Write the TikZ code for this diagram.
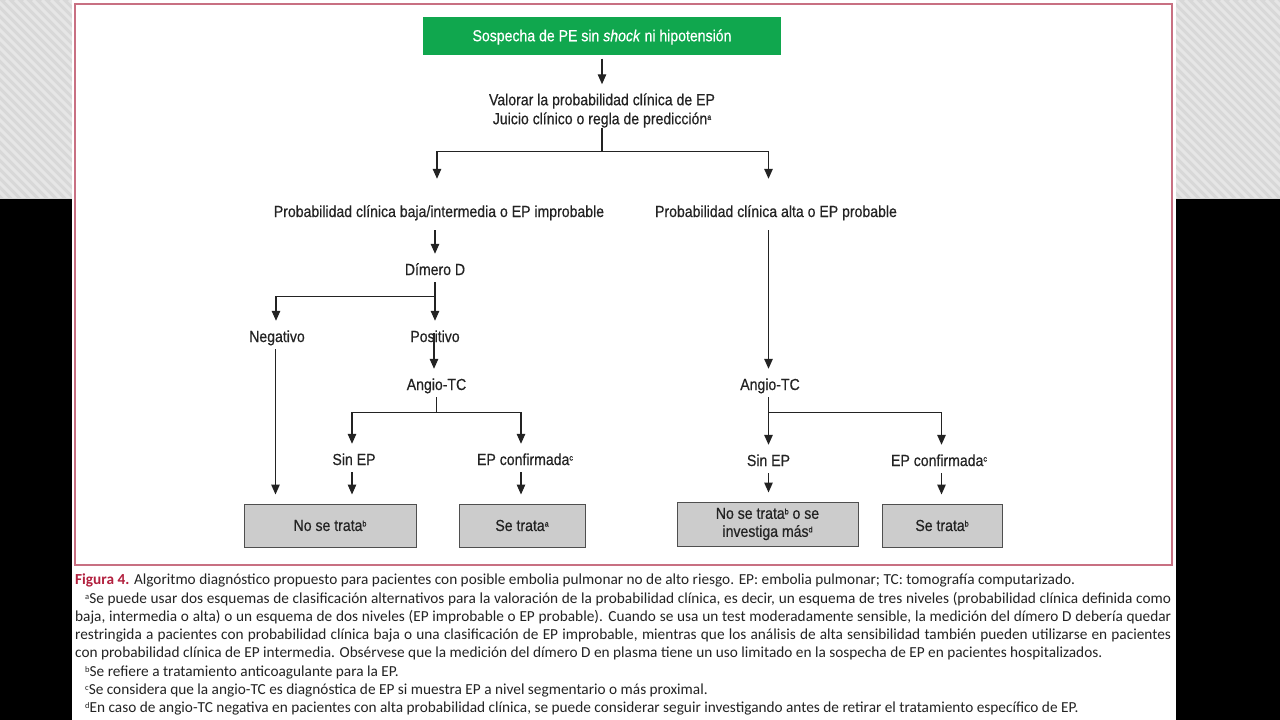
\documentclass[tikz,border=0pt]{standalone}
\usepackage{fontspec}
\setmainfont{Carlito}
\newfontfamily\cond[FakeStretch=0.88,FakeBold=0.5]{Liberation Sans}
\usetikzlibrary{arrows.meta}
\newcommand\supf[1]{\raisebox{4.5pt}{\fontsize{8}{8}\selectfont #1}}
\newcommand\supc[1]{\raisebox{3.5pt}{\fontsize{8.5}{8.5}\selectfont #1}}
\definecolor{grn}{RGB}{16,167,78}
\definecolor{framec}{RGB}{200,112,130}
\definecolor{figred}{RGB}{178,32,62}
\definecolor{ink}{RGB}{35,35,35}
\definecolor{boxfill}{RGB}{204,204,204}
\definecolor{patbg}{RGB}{216,216,216}
\definecolor{patln}{RGB}{230,230,230}
\tikzset{
 lbl/.style={font=\cond\fontsize{16}{19}\selectfont, text=ink, inner xsep=1pt, inner ysep=0pt, text height=21pt, text depth=7pt},
 ln/.style={line width=1.3pt, draw=ink},
 arr/.style={ln, -{Triangle[length=10pt,width=8.5pt]}},
 outbox/.style={draw=ink!80, line width=1pt, fill=boxfill, font=\cond\fontsize{16}{18}\selectfont, text=ink, align=center, minimum height=43pt, inner sep=2pt},
 captxt/.style={anchor=base west, inner sep=0pt, font=\fontsize{15.3}{18}\selectfont, text=ink},
}
\begin{document}
\begin{tikzpicture}[x=1pt,y=-1pt]
\useasboundingbox (0,0) rectangle (1280,720);
\fill[black] (0,0) rectangle (1280,720);
\fill[patbg] (0,0) rectangle (1280,199);
\begin{scope}
\clip (0,0) rectangle (1280,197);
\foreach \i in {-210,-201,...,1280} \draw[patln, line width=3pt] (\i,0) -- ++(210,210);
\end{scope}
\fill[white] (72,0) rectangle (1176,720);
\draw[framec, line width=2pt] (75,4) rectangle (1172,565);

% nodes
\node[fill=grn, minimum width=358pt, minimum height=38pt, inner sep=0pt, text=white, text height=11.5pt, text depth=0pt, font=\cond\fontsize{16}{19}\selectfont] (start) at (602,35.5) {Sospecha de PE sin \textit{shock} ni hipotensión};
\node[font=\cond\fontsize{16}{19}\selectfont, text=ink, align=center, inner sep=0pt] (val) at (602,110.5) {Valorar la probabilidad clínica de EP\\Juicio clínico o regla de predicción\supf{a}};
\node[lbl] (pbaja) at (439,210) {Probabilidad clínica baja/intermedia o EP improbable};
\node[lbl] (palta) at (776,210) {Probabilidad clínica alta o EP probable};
\node[lbl] (dimero) at (435,268) {Dímero D};
\node[lbl] (neg) at (277,335) {Negativo};
\node[lbl] (pos) at (435,335) {Positivo};
\node[lbl] (angio1) at (436.5,383) {Angio-TC};
\node[lbl] (sin1) at (354,458) {Sin EP};
\node[lbl] (conf1) at (525,458) {EP confirmada\supf{c}};
\node[lbl] (angio2) at (770,383) {Angio-TC};
\node[lbl] (sin2) at (768.5,459) {Sin EP};
\node[lbl] (conf2) at (939,459) {EP confirmada\supf{c}};

\node[outbox, minimum width=172pt] (box1) at (330,525.5) {No se trata\supf{b}};
\node[outbox, minimum width=126pt] (box2) at (522,525.5) {Se trata\supf{a}};
\node[outbox, minimum width=181pt, minimum height=44pt] (box3) at (767.5,524) {No se trata\supf{b} o se\\investiga más\supf{d}};
\node[outbox, minimum width=120pt] (box4) at (942,525.5) {Se trata\supf{b}};

% connectors
\draw[arr, shorten <=4pt] (start.south) -- ([yshift=9pt]val.north);
\draw[ln] (val.south) -- ++(0,24) coordinate (vb);
\draw[arr, shorten >=17pt] (vb) -| ([xshift=-2pt]pbaja.north);
\draw[arr, shorten >=17pt] (vb) -| ([xshift=-1.5pt]palta.north -| angio2.north);
\draw[arr, shorten <=6pt] (pbaja.south -| dimero.north) -- (dimero.north);
\draw[arr] (dimero.south) -- ++(0,14) -| ([xshift=-1pt]neg.north);
\draw[arr] (dimero.south) -- (pos.north);
\draw[arr, shorten <=12pt] ([xshift=-1pt]pos.north) -- ([xshift=-1pt]pos.north |- angio1.north);
\draw[arr] (angio1.south) -- ++(0,15) -| ([xshift=-2pt]sin1.north);
\draw[arr] (angio1.south) -- ++(0,15) -| ([xshift=-4pt]conf1.north);
\draw[arr, shorten >=9pt] ([xshift=-1.5pt]neg.south) -- ([xshift=-1.5pt]neg.south |- box1.north);
\draw[arr, shorten >=9pt] ([xshift=-2pt]sin1.south) -- ([xshift=-2pt]sin1.south |- box1.north);
\draw[arr, shorten >=9pt] ([xshift=-4pt]conf1.south) -- ([xshift=-4pt]conf1.south |- box2.north);
\draw[arr, shorten <=6pt] ([xshift=-1.5pt]palta.south -| angio2.north) -- ([xshift=-1.5pt]angio2.north);
\draw[arr] ([xshift=-1.5pt]angio2.south) -- ([xshift=-1.5pt]angio2.south |- sin2.north);
\draw[arr] ([xshift=-1.5pt]angio2.south) -- ++(0,15) -| ([xshift=2.5pt]conf2.north);
\draw[arr, shorten >=9pt] (sin2.south) -- (sin2.south |- box3.north);
\draw[arr, shorten >=9pt] ([xshift=2.5pt]conf2.south) -- ([xshift=2.5pt]conf2.south |- box4.north);

% caption
\node[captxt] (c1) at (75,584.5) {\textcolor{figred}{\textbf{Figura 4.}} Algoritmo diagnóstico propuesto para pacientes con posible embolia pulmonar no de alto riesgo. EP: embolia pulmonar; TC: tomografía computarizado.};
\node[captxt] (c2) at (85,603) {\makebox[1086pt][s]{\supc{a}Se puede usar dos esquemas de clasificación alternativos para la valoración de la probabilidad clínica, es decir, un esquema de tres niveles (probabilidad clínica definida como}};
\node[captxt] (c3) at (75,621) {\makebox[1096pt][s]{baja, intermedia o alta) o un esquema de dos niveles (EP improbable o EP probable). Cuando se usa un test moderadamente sensible, la medición del dímero D debería quedar}};
\node[captxt] (c4) at (75,639) {\makebox[1096pt][s]{restringida a pacientes con probabilidad clínica baja o una clasificación de EP improbable, mientras que los análisis de alta sensibilidad también pueden utilizarse en pacientes}};
\node[captxt] (c5) at (75,657) {con probabilidad clínica de EP intermedia. Obsérvese que la medición del dímero D en plasma tiene un uso limitado en la sospecha de EP en pacientes hospitalizados.};
\node[captxt] (c6) at (85,676) {\supc{b}Se refiere a tratamiento anticoagulante para la EP.};
\node[captxt] (c7) at (85,694) {\supc{c}Se considera que la angio-TC es diagnóstica de EP si muestra EP a nivel segmentario o más proximal.};
\node[captxt] (c8) at (85,712) {\supc{d}En caso de angio-TC negativa en pacientes con alta probabilidad clínica, se puede considerar seguir investigando antes de retirar el tratamiento específico de EP.};
\end{tikzpicture}
\end{document}
